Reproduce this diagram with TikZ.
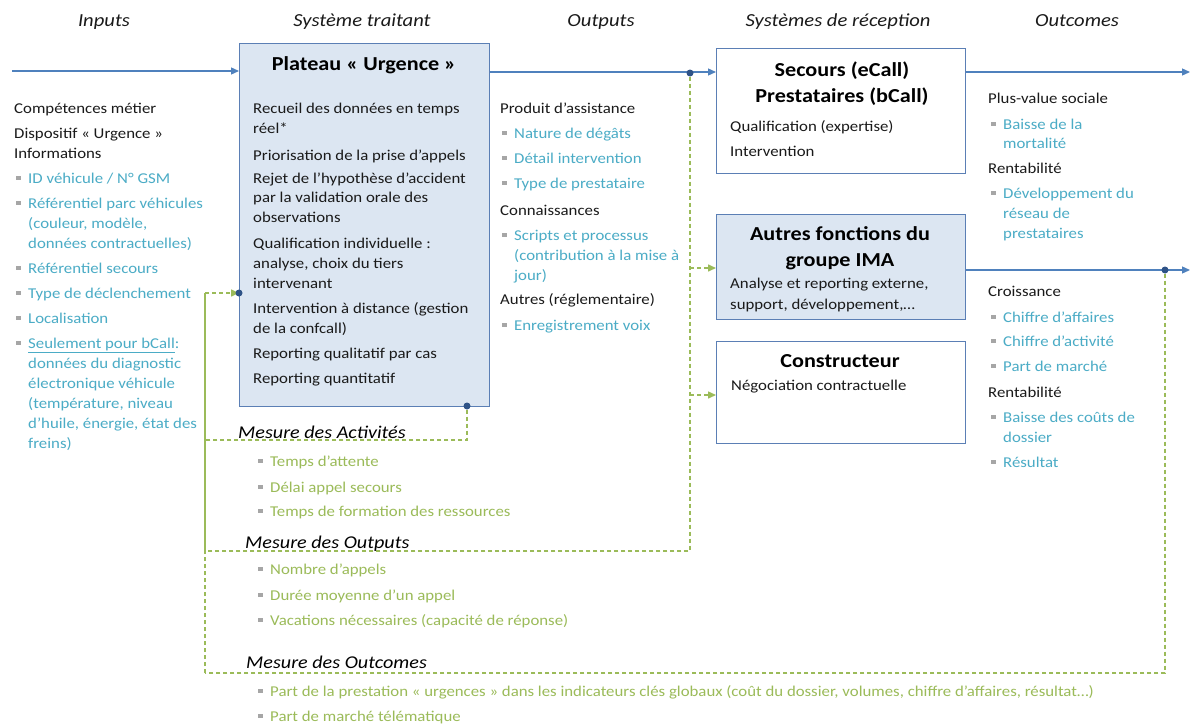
\documentclass[tikz,border=0pt]{standalone}
\usepackage{fontspec}
\setmainfont{Carlito}[FakeStretch=1.12]
\usetikzlibrary{arrows.meta}
\definecolor{bord}{HTML}{5B7FB5}
\definecolor{arr}{HTML}{4F81BD}
\definecolor{boxfill}{HTML}{DCE6F2}
\definecolor{aqua}{HTML}{4BACC6}
\definecolor{grn}{HTML}{9BBB59}
\definecolor{bulc}{HTML}{A6A6A6}
\definecolor{dotcol}{HTML}{2F5387}
\definecolor{dark}{HTML}{1A1A1A}
\newcommand\bq[2]{\fill[bulc] (#1-12,#2-7.5) rectangle ++(4.5,4.5);}
\begin{document}
\begin{tikzpicture}[x=1pt,y=-1pt,
  txt/.style={anchor=base west, inner sep=0pt, align=left, font=\fontsize{15}{20}\selectfont, text=dark},
  btxt/.style={txt, text=aqua},
  gtxt/.style={txt, text=grn},
  hdr/.style={anchor=base, inner sep=0pt, font=\fontsize{18.4}{20}\selectfont\itshape, text=dark},
  ttl/.style={anchor=base, inner sep=0pt, align=center, font=\fontsize{19.8}{26}\selectfont\bfseries, text=black},
  mes/.style={anchor=base west, inner sep=0pt, font=\fontsize{18}{20}\selectfont\itshape, text=black},
  boxs/.style={draw=bord, line width=1.3pt, anchor=north west, inner sep=0pt},
  barrow/.style={draw=arr, line width=1.3pt, -{Triangle[length=8pt,width=7pt]}},
  garrow/.style={draw=grn, line width=1.5pt, dash pattern=on 4pt off 3pt, -{Triangle[length=8pt,width=7pt]}},
  gline/.style={draw=grn, line width=1.5pt, dash pattern=on 4pt off 3pt},
  dotn/.style={circle, fill=dotcol, inner sep=0pt, minimum size=7pt}]
\useasboundingbox (0,0) rectangle (1192,726);
\fill[white] (0,0) rectangle (1192,726);

% headers
\node[hdr] (h1) at (104,26) {Inputs};
\node[hdr] (h2) at (362,26) {Système traitant};
\node[hdr] (h3) at (601,26) {Outputs};
\node[hdr] (h4) at (838,26) {Systèmes de réception};
\node[hdr] (h5) at (1077,26) {Outcomes};

% boxes
\node[boxs, fill=boxfill, minimum width=250pt, minimum height=363pt] (plateau) at (239,43) {};
\node[boxs, fill=white, minimum width=249pt, minimum height=125pt] (secours) at (716,48) {};
\node[boxs, fill=boxfill, minimum width=249pt, minimum height=105pt] (autres) at (716,214) {};
\node[boxs, fill=white, minimum width=249pt, minimum height=102pt] (constr) at (716,341) {};

% coordinates
\coordinate (inL) at (12,71);
\coordinate (outR1) at (1190,72);
\coordinate (outR2) at (1190,270);
\coordinate (gA) at (205,440);
\coordinate (gO) at (205,551);
\coordinate (gC) at (205,673);
\coordinate (gT) at (205,293);
\coordinate (pin) at (239,293);

% blue arrows
\draw[barrow] (inL) -- (inL -| plateau.west);
\draw[barrow] (plateau.east |- 0,72) -- (secours.west |- 0,72);
\draw[barrow] (secours.east |- outR1) -- (outR1);
\draw[barrow] (autres.east |- outR2) -- (outR2);

% dots
\node[dotn] (d1) at (690,73) {};
\node[dotn] (d2) at (467,406) {};
\node[dotn] (d3) at (1165,270) {};

% green connectors
\draw[gline] (d1) -- (d1 |- gO) -- (gO);
\draw[garrow] (d1 |- 0,268) -- (autres.west |- 0,268);
\draw[garrow] (d1 |- 0,395) -- (constr.west |- 0,395);
\draw[gline] (d2) -- (d2 |- gA) -- (gA);
\draw[gline] (d3) -- (d3 |- gC) -- (gC);
\draw[draw=grn, line width=1.5pt] (gO) -- (gT);
\draw[gline] (gC) -- (gO);
\draw[garrow] (gT) -- (pin);
\node[dotn] (d4) at (pin) {};

% left column (anchor = baseline of last line)
\node[txt] (l1) at (14,113) {Compétences métier};
\node[txt] (l2) at (14,158) {Dispositif « Urgence »\\Informations};
\bq{28}{183}\node[btxt] (l3) at (28,183) {ID véhicule / N° GSM};
\bq{28}{208}\node[btxt] (l4) at (28,248) {Référentiel parc véhicules\\(couleur, modèle,\\données contractuelles)};
\bq{28}{273}\node[btxt] (l5) at (28,273) {Référentiel secours};
\bq{28}{298}\node[btxt] (l6) at (28,298) {Type de déclenchement};
\bq{28}{323}\node[btxt] (l7) at (28,323) {Localisation};
\bq{28}{348}\node[btxt] (l8) at (28,448) {\underline{Seulement pour bCall}:\\données du diagnostic\\électronique véhicule\\(température, niveau\\d’huile, énergie, état des\\freins)};

% plateau content
\node[ttl] (pt) at (364,70) {Plateau « Urgence »};
\node[txt] (p1) at (253,133) {Recueil des données en temps\\réel*};
\node[txt] (p2) at (253,160) {Priorisation de la prise d’appels};
\node[txt, font=\fontsize{15}{19.5}\selectfont] (p3) at (253,222) {Rejet de l’hypothèse d’accident\\par la validation orale des\\observations};
\node[txt] (p4) at (253,288) {Qualification individuelle :\\analyse, choix du tiers\\intervenant};
\node[txt] (p5) at (253,333) {Intervention à distance (gestion\\de la confcall)};
\node[txt] (p6) at (253,358) {Reporting qualitatif par cas};
\node[txt] (p7) at (253,383) {Reporting quantitatif};

% outputs column
\node[txt] (o1) at (500,113) {Produit d’assistance};
\bq{514}{138}\node[btxt] (o2) at (514,138) {Nature de dégâts};
\bq{514}{163}\node[btxt] (o3) at (514,163) {Détail intervention};
\bq{514}{188}\node[btxt] (o4) at (514,188) {Type de prestataire};
\node[txt] (o5) at (500,215) {Connaissances};
\bq{514}{240}\node[btxt] (o6) at (514,280) {Scripts et processus\\(contribution à la mise à\\jour)};
\node[txt] (o7) at (500,304) {Autres (réglementaire)};
\bq{514}{330}\node[btxt] (o8) at (514,330) {Enregistrement voix};

% reception boxes content
\node[ttl] (st) at (842,102) {Secours (eCall)\\Prestataires (bCall)};
\node[txt] (s1) at (730,131) {Qualification (expertise)};
\node[txt] (s2) at (730,156) {Intervention};
\node[ttl] (at) at (840,266) {Autres fonctions du\\groupe IMA};
\node[txt, font=\fontsize{15}{21}\selectfont] (a1) at (730,309) {Analyse et reporting externe,\\support, développement,…};
\node[ttl] (ct) at (840,367) {Constructeur};
\node[txt] (c1) at (731,390) {Négociation contractuelle};

% outcomes column
\node[txt] (r1) at (988,103) {Plus-value sociale};
\bq{1003}{129}\node[btxt, font=\fontsize{15}{19.5}\selectfont] (r2) at (1003,148.5) {Baisse de la\\mortalité};
\node[txt] (r3) at (988,173) {Rentabilité};
\bq{1003}{198}\node[btxt] (r4) at (1003,238) {Développement du\\réseau de\\prestataires};
\node[txt] (r5) at (988,296) {Croissance};
\bq{1003}{322}\node[btxt] (r6) at (1003,322) {Chiffre d’affaires};
\bq{1003}{346}\node[btxt] (r7) at (1003,346) {Chiffre d’activité};
\bq{1003}{371}\node[btxt] (r8) at (1003,371) {Part de marché};
\node[txt] (r9) at (988,397) {Rentabilité};
\bq{1003}{422}\node[btxt] (r10) at (1003,442) {Baisse des coûts de\\dossier};
\bq{1003}{467}\node[btxt] (r11) at (1003,467) {Résultat};

% measures
\node[mes] (m1) at (238,438) {Mesure des Activités};
\bq{270}{466}\node[gtxt] (m11) at (270,466) {Temps d’attente};
\bq{270}{492}\node[gtxt] (m12) at (270,492) {Délai appel secours};
\bq{270}{516}\node[gtxt] (m13) at (270,516) {Temps de formation des ressources};
\node[mes] (m2) at (245,548) {Mesure des Outputs};
\bq{270}{574}\node[gtxt] (m21) at (270,574) {Nombre d’appels};
\bq{270}{600}\node[gtxt] (m22) at (270,600) {Durée moyenne d’un appel};
\bq{270}{625}\node[gtxt] (m23) at (270,625) {Vacations nécessaires (capacité de réponse)};
\node[mes] (m3) at (246,668) {Mesure des Outcomes};
\bq{270}{696}\node[gtxt] (m31) at (270,696) {Part de la prestation « urgences » dans les indicateurs clés globaux (coût du dossier, volumes, chiffre d’affaires, résultat…)};
\bq{270}{721}\node[gtxt] (m32) at (270,721) {Part de marché télématique};
\end{tikzpicture}
\end{document}
